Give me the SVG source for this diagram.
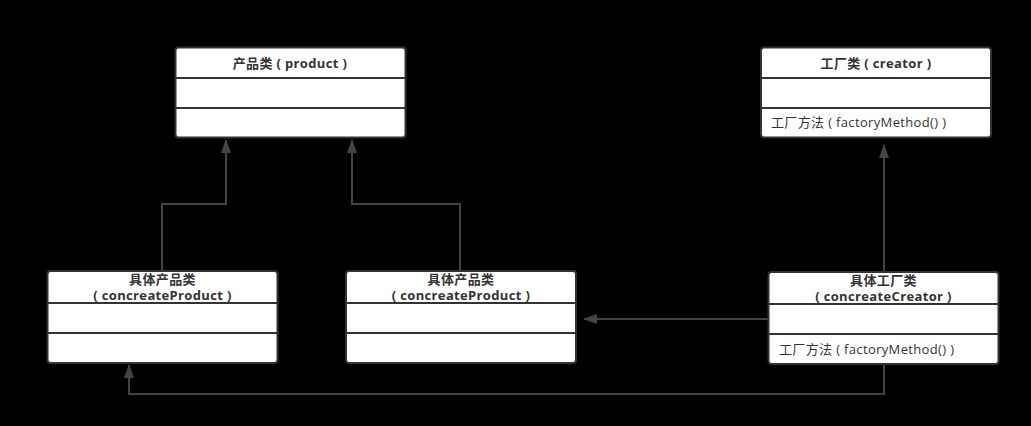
<svg xmlns="http://www.w3.org/2000/svg" width="1031" height="426" viewBox="0 0 1031 426">
<style>
.box{fill:#fff;stroke:#333;stroke-width:2}
.sep{stroke:#333;stroke-width:2}
.t{font-family:"Open Sans","Noto Sans CJK SC",sans-serif;font-size:13px;fill:#333;letter-spacing:0.35px}
.b{font-weight:bold;text-anchor:middle}
.c{fill:none;stroke:#444;stroke-width:2}
</style>
<defs>
<marker id="arr" viewBox="0 0 14 10" refX="13" refY="5" markerWidth="14" markerHeight="10" orient="auto" markerUnits="userSpaceOnUse">
<path d="M0,0 L14,5 L0,10 z" fill="#444"/>
</marker>
</defs>
<rect x="0" y="0" width="1031" height="426" fill="#000"/>
<g id="connectors">
<path class="c" d="M162,271 V204 H226 V140" marker-end="url(#arr)"/>
<path class="c" d="M460,271 V204 H352 V140" marker-end="url(#arr)"/>
<path class="c" d="M884,272 V145" marker-end="url(#arr)"/>
<path class="c" d="M768,319 H584" marker-end="url(#arr)"/>
<path class="c" d="M884,364 V394 H129 V365" marker-end="url(#arr)"/>
</g>
<g id="product">
<rect class="box" x="175.5" y="47.5" width="230" height="90" rx="3"/>
<line class="sep" x1="175.5" y1="78" x2="405.5" y2="78"/>
<line class="sep" x1="175.5" y1="108" x2="405.5" y2="108"/>
<text class="t b" x="290" y="68">产品类 ( product )</text>
</g>
<g id="creator">
<rect class="box" x="761" y="47.5" width="230" height="90" rx="3"/>
<line class="sep" x1="761" y1="78" x2="991" y2="78"/>
<line class="sep" x1="761" y1="108" x2="991" y2="108"/>
<text class="t b" x="876" y="68">工厂类 ( creator )</text>
<text class="t" x="771" y="127">工厂方法 ( factoryMethod() )</text>
</g>
<g id="concreteProduct1">
<rect class="box" x="47.5" y="271" width="230" height="92" rx="3"/>
<line class="sep" x1="47.5" y1="303" x2="277.5" y2="303"/>
<line class="sep" x1="47.5" y1="333" x2="277.5" y2="333"/>
<text class="t b" x="162.5" y="284">具体产品类</text>
<text class="t b" x="162.5" y="300">( concreateProduct )</text>
</g>
<g id="concreteProduct2">
<rect class="box" x="346" y="271" width="230" height="92" rx="3"/>
<line class="sep" x1="346" y1="303" x2="576" y2="303"/>
<line class="sep" x1="346" y1="333" x2="576" y2="333"/>
<text class="t b" x="461" y="284">具体产品类</text>
<text class="t b" x="461" y="300">( concreateProduct )</text>
</g>
<g id="concreteCreator">
<rect class="box" x="768.5" y="272" width="230" height="92" rx="3"/>
<line class="sep" x1="768.5" y1="304" x2="998.5" y2="304"/>
<line class="sep" x1="768.5" y1="334" x2="998.5" y2="334"/>
<text class="t b" x="883.5" y="285">具体工厂类</text>
<text class="t b" x="883.5" y="301">( concreateCreator )</text>
<text class="t" x="779" y="354">工厂方法 ( factoryMethod() )</text>
</g>
</svg>
